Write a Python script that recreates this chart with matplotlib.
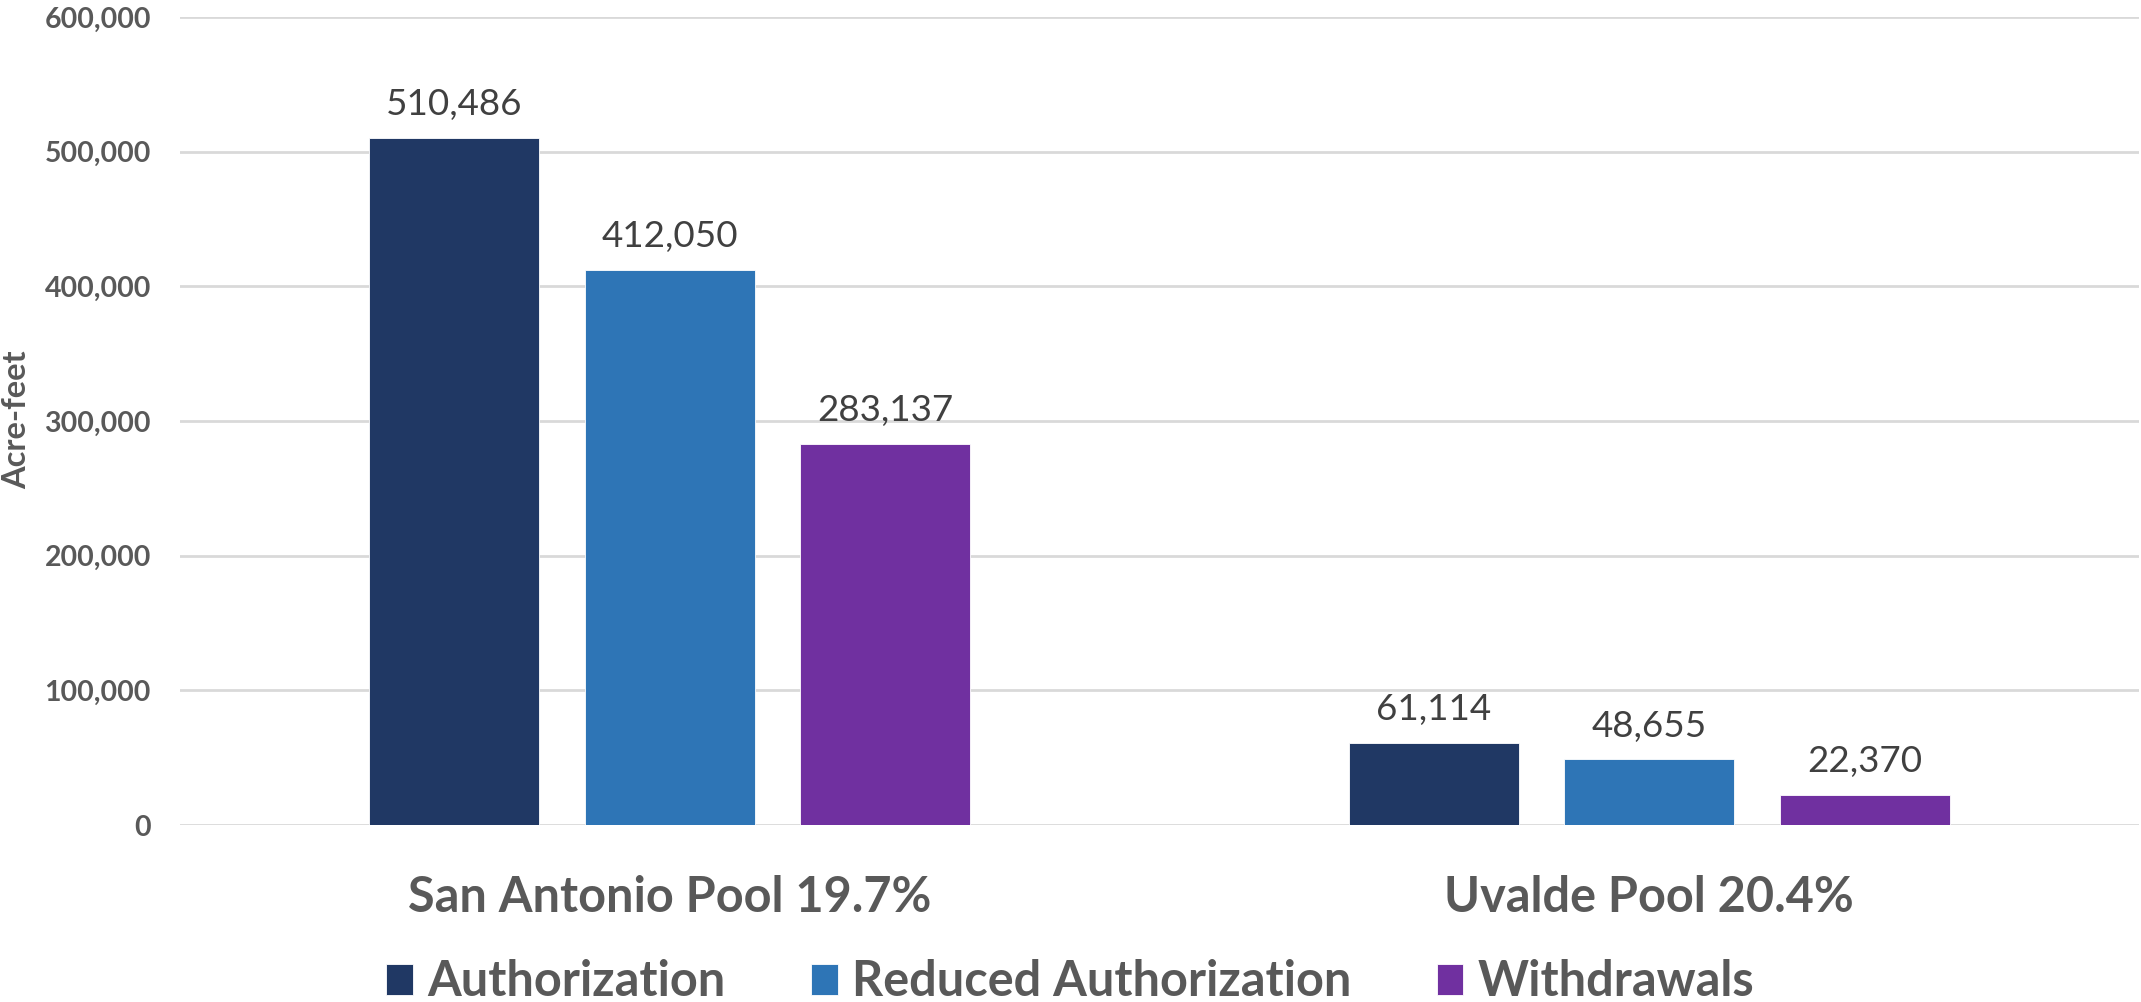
import matplotlib
matplotlib.use('Agg')
import matplotlib.pyplot as plt
import numpy as np

plt.rcParams['font.family'] = ['Lato', 'DejaVu Sans']

categories = ['San Antonio Pool 19.7%', 'Uvalde Pool 20.4%']
series = ['Authorization', 'Reduced Authorization', 'Withdrawals']
authorization = [510486, 61114]
reduced = [412050, 48655]
withdrawals = [283137, 22370]
colors = ['#203864', '#2E75B6', '#7030A0']
yticks = [0, 100000, 200000, 300000, 400000, 500000, 600000]

GRAY = '#595959'

fig = plt.figure(figsize=(21.41, 10.02), dpi=100)
ax = fig.add_axes([180/2141, 1-825/1002, (2139-180)/2141, (825-17)/1002])

x = np.arange(len(categories))
w = 0.174
step = 0.22
for k, (name, vals) in enumerate(zip(series, [authorization, reduced, withdrawals])):
    bars = ax.bar(x + (k-1)*step, vals, w, color=colors[k], label=name,
                  edgecolor='white', linewidth=0.6, zorder=3)
    for b, v in zip(bars, vals):
        ax.annotate(f'{v:,}', (b.get_x()+b.get_width()/2, v), xytext=(0, 12),
                    textcoords='offset points', ha='center', va='bottom',
                    fontsize=26.5, color='#404040')

ax.set_xlim(-0.5, 1.5)
ax.set_ylim(0, 600000)
ax.set_yticks(yticks)
ax.set_yticklabels([f'{t:,}' for t in yticks], fontsize=20.5, fontweight='bold', color=GRAY)
ax.set_xticks(x)
ax.set_xticklabels(categories, fontsize=35, fontweight='bold', color=GRAY)
ax.tick_params(axis='y', length=0, pad=21)
ax.tick_params(axis='x', length=0, pad=36)
ax.grid(axis='y', color='#D9D9D9', linewidth=2, zorder=0)
for s in ax.spines.values():
    s.set_visible(False)

fig.text(17/2141, 1-420/1002, 'Acre-feet', rotation=90, ha='center', va='center',
         fontsize=23.5, fontweight='bold', color=GRAY)

leg = fig.legend(loc='center', bbox_to_anchor=(0.500, 1-982/1002), ncol=3, frameon=False,
                 fontsize=35, handlelength=0.55, handleheight=0.6, handletextpad=0.3,
                 columnspacing=1.75)
for t in leg.get_texts():
    t.set_color(GRAY)
    t.set_fontweight('bold')

fig.savefig('out.png', dpi=100)
